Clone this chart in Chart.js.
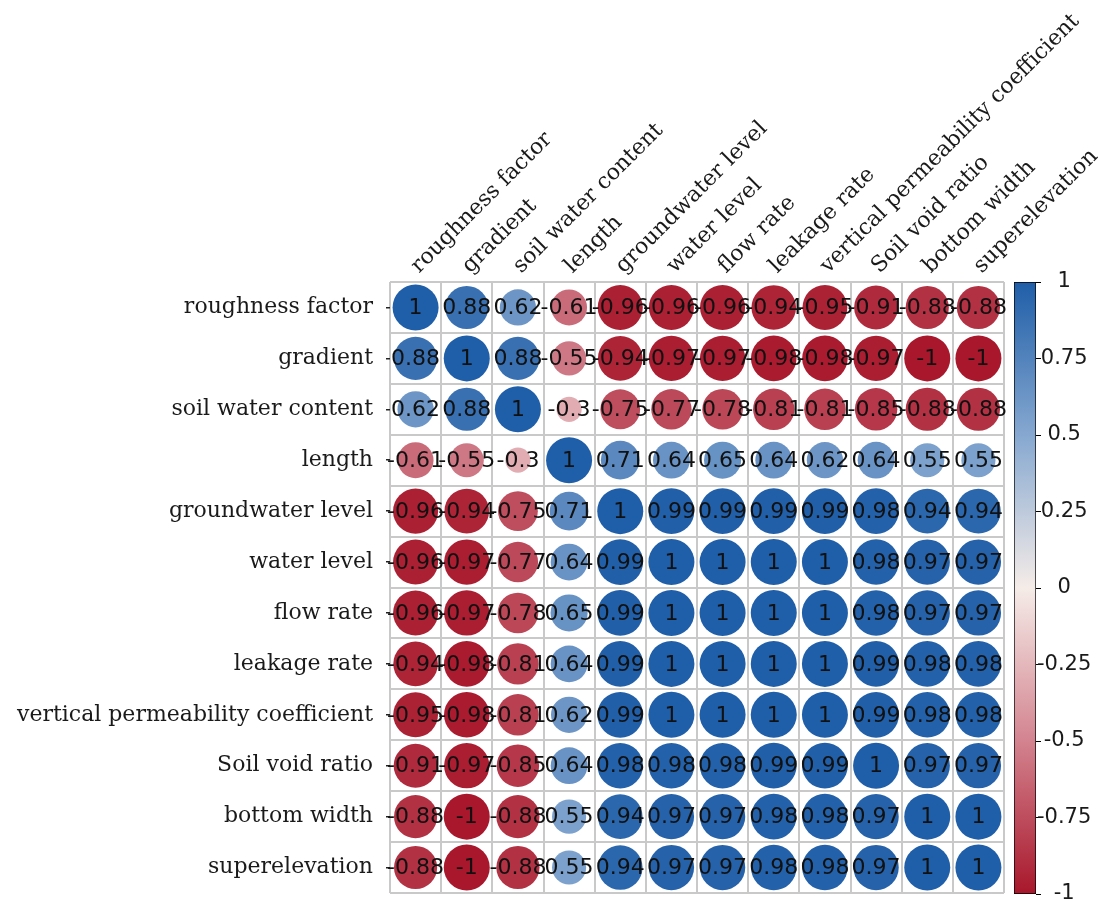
<!DOCTYPE html>
<html>
<head>
<meta charset="utf-8">
<script src="https://cdn.jsdelivr.net/npm/chart.js@4.4.1/dist/chart.umd.min.js"></script>
<style>
  html, body { margin: 0; padding: 0; background: #fff; overflow: hidden; }
  #wrap { position: relative; width: 1102px; height: 903px; }
  #matrix { position: absolute; left: 0; top: 0; }
  #colorbar { position: absolute; left: 1000px; top: 0; }
</style>
</head>
<body>
<div id="wrap">
  <canvas id="matrix" width="1102" height="903"></canvas>
  <canvas id="colorbar" width="102" height="903"></canvas>
</div>
<script>
const variables = ['roughness factor', 'gradient', 'soil water content', 'length',
  'groundwater level', 'water level', 'flow rate', 'leakage rate',
  'vertical permeability coefficient', 'Soil void ratio', 'bottom width', 'superelevation'];

// one row of the correlation matrix per variable
const roughnessFactorCorr = [1, 0.88, 0.62, -0.61, -0.96, -0.96, -0.96, -0.94, -0.95, -0.91, -0.88, -0.88];
const gradientCorr        = [0.88, 1, 0.88, -0.55, -0.94, -0.97, -0.97, -0.98, -0.98, -0.97, -1, -1];
const soilWaterCorr       = [0.62, 0.88, 1, -0.3, -0.75, -0.77, -0.78, -0.81, -0.81, -0.85, -0.88, -0.88];
const lengthCorr          = [-0.61, -0.55, -0.3, 1, 0.71, 0.64, 0.65, 0.64, 0.62, 0.64, 0.55, 0.55];
const groundwaterCorr     = [-0.96, -0.94, -0.75, 0.71, 1, 0.99, 0.99, 0.99, 0.99, 0.98, 0.94, 0.94];
const waterLevelCorr      = [-0.96, -0.97, -0.77, 0.64, 0.99, 1, 1, 1, 1, 0.98, 0.97, 0.97];
const flowRateCorr        = [-0.96, -0.97, -0.78, 0.65, 0.99, 1, 1, 1, 1, 0.98, 0.97, 0.97];
const leakageRateCorr     = [-0.94, -0.98, -0.81, 0.64, 0.99, 1, 1, 1, 1, 0.99, 0.98, 0.98];
const verticalPermCorr    = [-0.95, -0.98, -0.81, 0.62, 0.99, 1, 1, 1, 1, 0.99, 0.98, 0.98];
const soilVoidCorr        = [-0.91, -0.97, -0.85, 0.64, 0.98, 0.98, 0.98, 0.99, 0.99, 1, 0.97, 0.97];
const bottomWidthCorr     = [-0.88, -1, -0.88, 0.55, 0.94, 0.97, 0.97, 0.98, 0.98, 0.97, 1, 1];
const superelevationCorr  = [-0.88, -1, -0.88, 0.55, 0.94, 0.97, 0.97, 0.98, 0.98, 0.97, 1, 1];

const colorbarTicks = [-1, -0.75, -0.5, -0.25, 0, 0.25, 0.5, 0.75, 1];

const correlations = [roughnessFactorCorr, gradientCorr, soilWaterCorr, lengthCorr,
  groundwaterCorr, waterLevelCorr, flowRateCorr, leakageRateCorr,
  verticalPermCorr, soilVoidCorr, bottomWidthCorr, superelevationCorr];

// red - white - blue diverging scale
const colorStops = [
  [-1, [168, 23, 43]],
  [-0.5, [211, 131, 143]],
  [0, [245, 236, 232]],
  [0.5, [134, 168, 208]],
  [1, [31, 94, 168]]
];

function colorFor(v) {
  for (let i = 1; i < colorStops.length; i++) {
    const [v0, c0] = colorStops[i - 1];
    const [v1, c1] = colorStops[i];
    if (v <= v1) {
      const t = (v - v0) / (v1 - v0);
      return 'rgb(' + c0.map((c, k) => Math.round(c + (c1[k] - c) * t)).join(',') + ')';
    }
  }
  return 'rgb(' + colorStops[colorStops.length - 1][1].join(',') + ')';
}

const points = [];
correlations.forEach((row, i) => {
  row.forEach((v, j) => points.push({ x: variables[j], y: variables[i], v: v }));
});

const maxRadius = 23;
const gridColor = '#c9c9c9';
const labelFont = { family: '"DejaVu Serif", serif', size: 22 };

// print the coefficient in the middle of every circle
const cellValueLabels = {
  id: 'cellValueLabels',
  afterDatasetsDraw(chart) {
    const ctx = chart.ctx;
    const meta = chart.getDatasetMeta(0);
    const data = chart.data.datasets[0].data;
    ctx.save();
    ctx.font = '22px "DejaVu Sans", sans-serif';
    ctx.fillStyle = '#111';
    ctx.textAlign = 'center';
    ctx.textBaseline = 'middle';
    meta.data.forEach((el, i) => {
      ctx.fillText(String(data[i].v), el.x, el.y + 1);
    });
    ctx.restore();
  }
};

new Chart(document.getElementById('matrix'), {
  type: 'bubble',
  data: {
    datasets: [{
      data: points,
      radius: ctx => maxRadius * Math.sqrt(Math.abs(ctx.raw.v)),
      backgroundColor: ctx => colorFor(ctx.raw.v),
      borderWidth: 0,
      hoverRadius: 0
    }]
  },
  options: {
    responsive: false,
    animation: false,
    devicePixelRatio: 1,
    layout: { autoPadding: false, padding: { top: 0, left: 0, right: 98, bottom: 10 } },
    plugins: { legend: { display: false }, tooltip: { enabled: false } },
    scales: {
      x: {
        type: 'category',
        labels: variables,
        position: 'top',
        offset: true,
        grid: { offset: true, color: gridColor, lineWidth: 2, drawTicks: false },
        border: { display: false },
        ticks: { autoSkip: false, maxRotation: 45, minRotation: 45, padding: 3, labelOffset: 18, color: '#1a1a1a', font: labelFont },
        afterFit(s) { s.height = 282; s.paddingLeft = 0; s.paddingRight = 0; }
      },
      y: {
        type: 'category',
        labels: variables,
        position: 'left',
        weight: 1,
        offset: true,
        grid: { offset: true, color: gridColor, lineWidth: 2, drawTicks: false },
        border: { display: false },
        ticks: { autoSkip: false, padding: 13, color: '#1a1a1a', font: labelFont },
        afterFit(s) { s.width = 386; s.paddingTop = 0; s.paddingBottom = 0; }
      },
      yMarks: {
        type: 'category',
        labels: variables,
        position: 'left',
        weight: 0,
        offset: true,
        grid: { offset: false, drawOnChartArea: false, drawTicks: true, tickLength: 4, color: '#222', lineWidth: 1.5 },
        border: { display: false },
        ticks: { display: false },
        afterFit(s) { s.width = 4; s.paddingTop = 0; s.paddingBottom = 0; }
      }
    }
  },
  plugins: [cellValueLabels]
});

// colour bar: one floating bar spanning -1..1 filled with the same scale
new Chart(document.getElementById('colorbar'), {
  type: 'bar',
  data: {
    labels: ['r'],
    datasets: [{
      data: [[-1, 1]],
      backgroundColor(ctx) {
        const area = ctx.chart.chartArea;
        if (!area) return null;
        const g = ctx.chart.ctx.createLinearGradient(0, area.bottom, 0, area.top);
        colorStops.forEach(([v, c]) => g.addColorStop((v + 1) / 2, 'rgb(' + c.join(',') + ')'));
        return g;
      },
      borderColor: '#000',
      borderWidth: 1,
      borderSkipped: false,
      barPercentage: 1,
      categoryPercentage: 1
    }]
  },
  options: {
    responsive: false,
    animation: false,
    devicePixelRatio: 1,
    layout: { padding: { left: 14, top: 282, bottom: 9, right: 0 } },
    plugins: { legend: { display: false }, tooltip: { enabled: false } },
    scales: {
      x: { display: false },
      y: {
        position: 'right',
        min: -1,
        max: 1,
        grid: { drawOnChartArea: false, tickLength: 5, color: '#000' },
        border: { display: false },
        ticks: {
          crossAlign: 'center',
          padding: -4,
          color: '#1a1a1a',
          font: { family: '"DejaVu Sans", sans-serif', size: 21 },
          callback: v => String(v)
        },
        afterBuildTicks(s) { s.ticks = colorbarTicks.map(value => ({ value })); },
        afterFit(s) { s.width = 66; s.paddingTop = 0; s.paddingBottom = 0; }
      }
    }
  }
});
</script>
</body>
</html>
